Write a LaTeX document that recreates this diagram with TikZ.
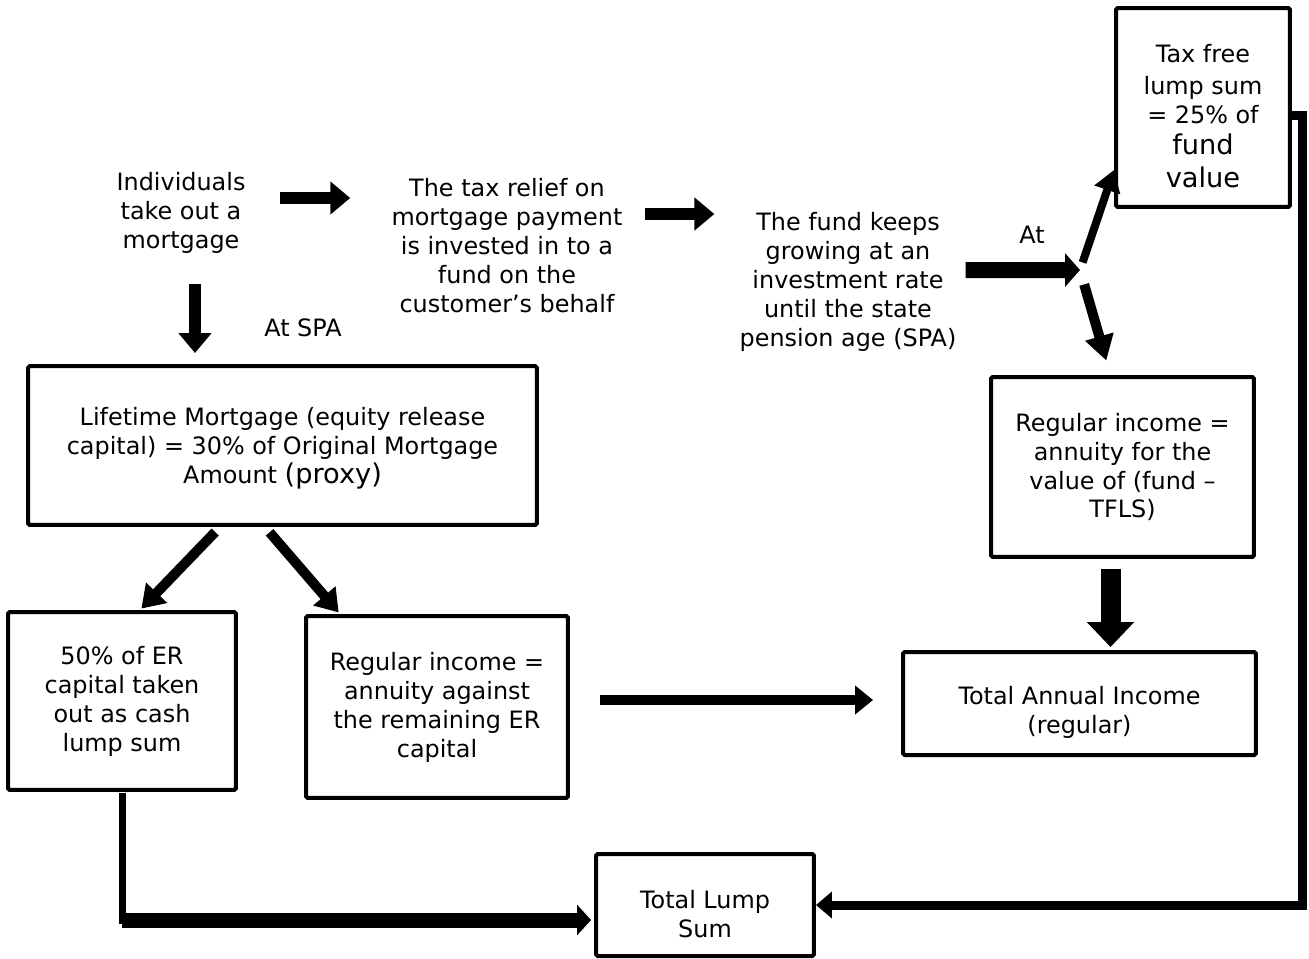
\documentclass[tikz,border=0pt]{standalone}
\usepackage{fontspec}
\setmainfont{DejaVu Sans}
\usepackage{tikz}
\usetikzlibrary{arrows.meta}
\tikzstyle{process} = [rectangle, draw=black, line width=0.08cm, rounded corners=1pt, align=center, inner sep=0pt]
\tikzstyle{note} = [align=center, inner sep=0pt]
\tikzstyle{arrow} = [line width=0.24cm, -{Triangle[length=0.4cm,width=0.64cm]}]
\tikzstyle{link} = [line width=0.14cm, line cap=rect]
\newcommand{\bigtext}[1]{{\fontsize{15.5pt}{16.5pt}\selectfont #1}}
\newcommand{\topgap}[1]{\rule{0pt}{#1}}

\begin{document}
\begin{tikzpicture}[x=0.02cm, y=-0.02cm, font=\fontsize{13.6pt}{16.5pt}\selectfont]
        \useasboundingbox (0,0) rectangle (1309,958);
        \node (individuals) [note] at (181,213) {Individuals\\take out a\\mortgage};
        \node (tax-relief) [note] at (507,246) {The tax relief on\\mortgage payment\\is invested in to a\\fund on the\\customer’s behalf};
        \node (fund-growth) [note] at (848,282) {The fund keeps\\growing at an\\investment rate\\until the state\\pension age (SPA)};
        \node (tax-free) [process, minimum width=3.48cm, minimum height=3.98cm] at (1203,107.5) {\topgap{20pt}Tax free\\[1.5pt]lump sum\\= 25\% of\\[1.5pt]\bigtext{fund}\\[2pt]\bigtext{value}};
        \node (lifetime-mortgage) [process, minimum width=10.18cm, minimum height=3.18cm] at (282.5,445.5) {\topgap{13.5pt}Lifetime Mortgage (equity release\\capital) = 30\% of Original Mortgage\\Amount \bigtext{(proxy)}};
        \node (cash-lump) [process, minimum width=4.56cm, minimum height=3.56cm] at (122,701) {50\% of ER\\capital taken\\out as cash\\lump sum};
        \node (regular-er) [process, minimum width=5.24cm, minimum height=3.64cm] at (437,707) {Regular income =\\annuity against\\the remaining ER\\capital};
        \node (regular-fund) [process, minimum width=5.26cm, minimum height=3.6cm] at (1122.5,467) {Regular income =\\annuity for the\\value of (fund –\\TFLS)};
        \node (total-income) [process, minimum width=7.06cm, minimum height=2.06cm] at (1079.5,703.5) {\topgap{20.5pt}Total Annual Income\\(regular)};
        \node (total-lump) [process, minimum width=4.36cm, minimum height=2.04cm] at (705,905) {\topgap{20.5pt}Total Lump\\Sum};
        \node (at-spa) [note] at (303,328) {At SPA};
        \node (at-split) [note] at (1032,235) {At};
        \coordinate (split) at (1080,270);

        \draw [arrow, shorten <=0.68cm, shorten >=0.82cm] ([yshift=0.3cm]individuals.east) -- ([yshift=0.3cm]individuals.east -| tax-relief.west);
        \draw [arrow, shorten <=0.44cm, shorten >=0.5cm] ([yshift=0.64cm]tax-relief.east) -- ([yshift=0.64cm]tax-relief.east -| fund-growth.west);
        \draw [arrow, line width=0.32cm, -{Triangle[length=0.3cm,width=0.66cm]}, shorten <=0.18cm] ([yshift=0.24cm]fund-growth.east) -- (split);
        \draw [arrow, line width=0.16cm, -{Triangle[length=0.42cm,width=0.52cm]}, shorten <=0.16cm] (split) -- ([yshift=-1.25cm]tax-free.west);
        \draw [arrow, line width=0.2cm, -{Triangle[length=0.5cm,width=0.56cm]}, shorten <=0.3cm, shorten >=0.3cm] (split) -- ([xshift=-0.24cm]regular-fund.north);
        \draw [arrow, shorten <=0.6cm, shorten >=0.22cm] ([xshift=0.28cm]individuals.south) -- ([xshift=0.28cm]individuals.south |- lifetime-mortgage.north);
        \draw [arrow, line width=0.2cm, -{Triangle[length=0.44cm,width=0.56cm]}, shorten <=0.14cm, shorten >=0.04cm] ([xshift=-1.25cm]lifetime-mortgage.south) -- ([xshift=0.36cm]cash-lump.north);
        \draw [arrow, line width=0.2cm, -{Triangle[length=0.44cm,width=0.56cm]}, shorten <=0.14cm, shorten >=0.04cm] ([xshift=-0.35cm]lifetime-mortgage.south) -- ([xshift=-1.94cm]regular-er.north);
        \draw [arrow, line width=0.4cm, -{Triangle[length=0.5cm,width=0.92cm]}, shorten <=0.2cm, shorten >=0.06cm] ([xshift=-0.24cm]regular-fund.south) -- ([xshift=-0.24cm]regular-fund.south |- total-income.north);
        \draw [arrow, line width=0.2cm, -{Triangle[length=0.36cm,width=0.56cm]}, shorten <=0.6cm, shorten >=0.56cm] ([yshift=0.14cm]regular-er.east) -- ([yshift=0.14cm]regular-er.east -| total-income.west);
        \coordinate (lump-in) at ([yshift=-0.3cm]total-lump.west);
        \draw [link] ([yshift=-0.1cm]cash-lump.south) -- (cash-lump.south |- lump-in);
        \draw [arrow, line width=0.3cm, -{Triangle[length=0.28cm,width=0.6cm]}, shorten >=0.06cm] (cash-lump.south |- lump-in) -- (lump-in);
        \coordinate (tax-turn) at ([xshift=0.22cm,yshift=-0.15cm]tax-free.east);
        \draw [arrow, line width=0.18cm, line join=miter, -{Triangle[length=0.32cm,width=0.52cm]}] ([yshift=-0.15cm]tax-free.east) -- (tax-turn) |- (total-lump.east);
    \end{tikzpicture}
\end{document}
